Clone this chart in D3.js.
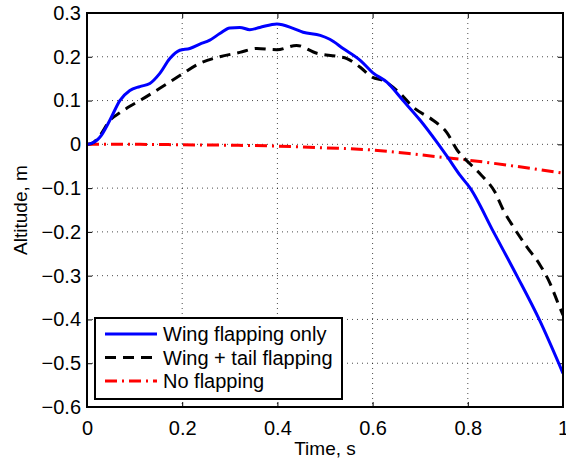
<!DOCTYPE html>
<html lang="en">
<head>
<meta charset="UTF-8">
<title>Altitude vs time</title>
<script src="https://cdn.jsdelivr.net/npm/d3@7"></script>
<style>
    body { margin: 0; background: #fff; }
    svg { font-family: "Liberation Sans", Arial, sans-serif; }
    .tick-label { font-size: 20px; fill: #000; }
    .grid line { stroke: #000; stroke-width: 1; stroke-dasharray: 1 4; opacity: 0.7; }
</style>
</head>
<body>
<svg id="vis" width="566" height="460"></svg>
<script>
    // time (s) and altitude (m)
    const tWing = [0, 0.006, 0.027, 0.048, 0.069, 0.09, 0.111, 0.132, 0.153, 0.174, 0.195, 0.216, 0.237, 0.258, 0.279, 0.3, 0.321, 0.342, 0.363, 0.399, 0.433, 0.454, 0.49, 0.51, 0.538, 0.574, 0.6, 0.63, 0.664, 0.7, 0.735, 0.758, 0.784, 0.805, 0.854, 0.903, 0.95, 1];
    const altWing = [0, 0.001, 0.016, 0.055, 0.1, 0.123, 0.132, 0.139, 0.162, 0.196, 0.215, 0.219, 0.229, 0.238, 0.253, 0.266, 0.267, 0.262, 0.267, 0.275, 0.265, 0.256, 0.249, 0.24, 0.219, 0.192, 0.164, 0.142, 0.1, 0.055, 0.005, -0.03, -0.071, -0.1, -0.2, -0.3, -0.4, -0.523];

    const tTail = [0, 0.01, 0.027, 0.048, 0.069, 0.09, 0.111, 0.153, 0.195, 0.237, 0.279, 0.321, 0.357, 0.399, 0.44, 0.483, 0.525, 0.546, 0.574, 0.6, 0.622, 0.658, 0.685, 0.727, 0.756, 0.777, 0.805, 0.829, 0.857, 0.875, 0.896, 0.924, 0.952, 0.973, 0.99, 1];
    const altTail = [0, 0.002, 0.02, 0.055, 0.072, 0.087, 0.1, 0.128, 0.157, 0.185, 0.2, 0.21, 0.219, 0.216, 0.226, 0.208, 0.201, 0.196, 0.176, 0.153, 0.146, 0.116, 0.085, 0.055, 0.027, -0.012, -0.045, -0.071, -0.109, -0.151, -0.189, -0.234, -0.276, -0.318, -0.364, -0.39];

    const tNone = [0, 0.1, 0.2, 0.3, 0.4, 0.5, 0.6, 0.7, 0.75, 0.8, 0.9, 1];
    const altNone = [0, 0, -0.001, -0.002, -0.004, -0.008, -0.013, -0.024, -0.03, -0.036, -0.05, -0.066];

    const xTicks = [0, 0.2, 0.4, 0.6, 0.8, 1];
    const yTicks = [0.3, 0.2, 0.1, 0, -0.1, -0.2, -0.3, -0.4, -0.5, -0.6];
    const seriesNames = ["Wing flapping only", "Wing + tail flapping", "No flapping"];

    const svg = d3.select("#vis");
    const margin = { top: 13, right: 3, bottom: 53, left: 87 };
    const width = +svg.attr("width");
    const height = +svg.attr("height");

    const x = d3.scaleLinear().domain([0, 1]).range([margin.left, width - margin.right]);
    const y = d3.scaleLinear().domain([-0.6, 0.3]).range([height - margin.bottom, margin.top]);

    // grid
    const grid = svg.append("g").attr("class", "grid");
    grid.selectAll(".gx").data(xTicks.slice(1, -1)).join("line")
        .attr("x1", d => x(d)).attr("x2", d => x(d))
        .attr("y1", y(0.3)).attr("y2", y(-0.6));
    grid.selectAll(".gy").data(yTicks.slice(1, -1)).join("line")
        .attr("y1", d => y(d)).attr("y2", d => y(d))
        .attr("x1", x(0)).attr("x2", x(1));

    // axes (ticks inward on all sides)
    const tickLen = 5;
    svg.append("g")
        .attr("transform", "translate(0," + y(-0.6) + ")")
        .call(d3.axisBottom(x).tickValues(xTicks).tickSize(-tickLen).tickPadding(14).tickFormat(d3.format("")))
        .call(g => g.select(".domain").remove());
    svg.append("g")
        .attr("transform", "translate(0," + y(0.3) + ")")
        .call(d3.axisTop(x).tickValues(xTicks).tickSize(-tickLen).tickFormat(""))
        .call(g => g.select(".domain").remove());
    svg.append("g")
        .attr("transform", "translate(" + x(0) + ",0)")
        .call(d3.axisLeft(y).tickValues(yTicks).tickSize(-tickLen).tickPadding(6).tickFormat(d => d === 0 ? "0" : d3.format("")(d).replace("-", "\u2212")))
        .call(g => g.select(".domain").remove());
    svg.append("g")
        .attr("transform", "translate(" + x(1) + ",0)")
        .call(d3.axisRight(y).tickValues(yTicks).tickSize(-tickLen).tickFormat(""))
        .call(g => g.select(".domain").remove());

    svg.selectAll(".tick line").attr("stroke", "#000").attr("stroke-width", 1);
    svg.selectAll(".tick text").attr("class", "tick-label").attr("font-family", null).attr("font-size", null);

    // lines
    const line = d3.line().x(d => x(d[0])).y(d => y(d[1])).curve(d3.curveMonotoneX);
    svg.append("clipPath").attr("id", "clip").append("rect")
        .attr("x", x(0)).attr("y", y(0.3)).attr("width", x(1) - x(0)).attr("height", y(-0.6) - y(0.3));
    const plot = svg.append("g").attr("clip-path", "url(#clip)");

    const series = [
        { name: seriesNames[0], pts: d3.zip(tWing, altWing), color: "#0000ff", dash: null },
        { name: seriesNames[1], pts: d3.zip(tTail, altTail), color: "#000000", dash: "11 7" },
        { name: seriesNames[2], pts: d3.zip(tNone, altNone), color: "#ff0000", dash: "12 5 2 5" }
    ];

    plot.selectAll("path.series").data(series.slice().reverse()).join("path")
        .attr("class", "series")
        .attr("fill", "none")
        .attr("stroke", d => d.color)
        .attr("stroke-width", 3)
        .attr("stroke-dasharray", d => d.dash)
        .attr("d", d => line(d.pts));

    // box
    svg.append("rect")
        .attr("x", x(0)).attr("y", y(0.3))
        .attr("width", x(1) - x(0)).attr("height", y(-0.6) - y(0.3))
        .attr("fill", "none").attr("stroke", "#000").attr("stroke-width", 2);

    // labels
    svg.append("text")
        .attr("x", (x(0) + x(1)) / 2).attr("y", 455)
        .attr("text-anchor", "middle").attr("font-size", 19)
        .text("Time, s");
    svg.append("text")
        .attr("transform", "translate(27," + (y(0.3) + y(-0.6)) / 2 + ") rotate(-90)")
        .attr("text-anchor", "middle").attr("font-size", 19)
        .text("Altitude, m");

    // legend
    const legend = svg.append("g").attr("transform", "translate(95,318)");
    legend.append("rect").attr("width", 247).attr("height", 81)
        .attr("fill", "#fff").attr("stroke", "#000").attr("stroke-width", 2);
    const rows = legend.selectAll("g.row").data(series).join("g")
        .attr("class", "row")
        .attr("transform", (d, i) => "translate(0," + (16 + i * 23.5) + ")");
    rows.append("line")
        .attr("x1", 10).attr("x2", 62)
        .attr("stroke", d => d.color).attr("stroke-width", 3)
        .attr("stroke-dasharray", d => d.dash);
    rows.append("text")
        .attr("x", 68).attr("y", 7)
        .attr("font-size", 20)
        .text(d => d.name);
</script>
</body>
</html>
